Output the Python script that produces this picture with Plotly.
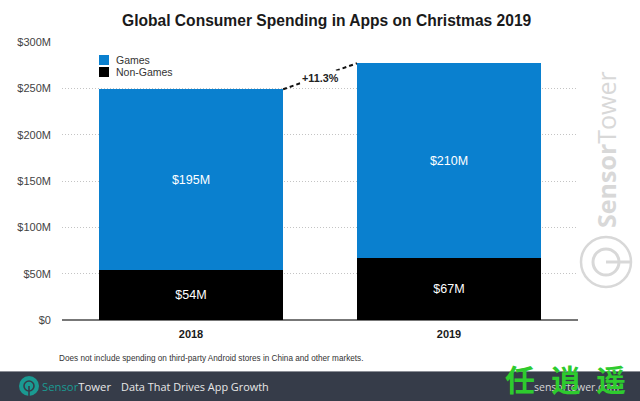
import plotly.graph_objects as go

# data
years = ["2018", "2019"]
games = [195, 210]
non_games = [54, 67]
tick_vals = [0, 50, 100, 150, 200, 250, 300]
tick_text = ["$0", "$50M", "$100M", "$150M", "$200M", "$250M", "$300M"]
title_text = "Global Consumer Spending in Apps on Christmas 2019"
note_text = "Does not include spending on third-party Android stores in China and other markets."
growth_text = "+11.3%"

W, H = 640, 401
LEFT, RIGHT, TOP, BOTTOM = 62, 578, 42, 320
BAR_GAP = 0.286
half_bar = (1 - BAR_GAP) / 2
totals = [g + n for g, n in zip(games, non_games)]
BLUE, TEAL, BAND, WM = "#0a80cf", "#1a9a92", "#363c49", "#d8d8d8"


# paper coords are relative to the plot area, so convert from page pixels
def px_x(x):
    return (x - LEFT) / (RIGHT - LEFT)


def px_y(y):
    return (BOTTOM - y) / (BOTTOM - TOP)


def px_rect(kind, x0, y0, x1, y1, **kw):
    fig.add_shape(type=kind, xref="paper", yref="paper", x0=px_x(x0), x1=px_x(x1), y0=px_y(y1), y1=px_y(y0), **kw)


def px_text(text, x, y, size, color, family="Liberation Sans", xanchor="left", angle=0):
    fig.add_annotation(x=px_x(x), y=px_y(y), xref="paper", yref="paper", text=text, showarrow=False,
                       xanchor=xanchor, yanchor="middle", textangle=angle, borderpad=0, borderwidth=0,
                       font=dict(size=size, color=color, family=family))


fig = go.Figure()
fig.add_bar(x=years, y=non_games, name="Non-Games", marker_color="#000000", marker_line_width=0,
            text=[f"${v}M" for v in non_games], textposition="inside", insidetextanchor="middle",
            textfont=dict(color="#ffffff", size=12.5, family="Liberation Sans"), hoverinfo="skip")
fig.add_bar(x=years, y=games, name="Games", marker_color=BLUE, marker_line_width=0,
            text=[f"${v}M" for v in games], textposition="inside", insidetextanchor="middle",
            textfont=dict(color="#ffffff", size=12.5, family="Liberation Sans"), hoverinfo="skip")

# dashed growth connector between the two bar tops
x0, x1 = half_bar, 1 - half_bar
mid_y = (totals[0] + totals[1]) / 2
fig.add_shape(type="line", xref="x", yref="y", x0=x0, x1=x1, y0=totals[0], y1=totals[1],
              line=dict(color="#111111", width=2, dash="4px,3px"))
fig.add_annotation(x=0.5, y=mid_y, xref="x", yref="y", yshift=-2, text=f"<b>{growth_text}</b>", showarrow=False,
                   bgcolor="#ffffff", borderpad=1,
                   font=dict(size=10.8, color="#222222", family="Liberation Sans"))

# legend drawn by hand, plotly's rows are too tall for the 12px spacing here
px_rect("rect", 99, 55, 109, 65, fillcolor=BLUE, line_width=0)
px_rect("rect", 99, 67, 109, 77, fillcolor="#000000", line_width=0)
px_text("Games", 116, 60, 10.5, "#333333")
px_text("Non-Games", 116, 72, 10.5, "#333333")

# footer band
px_rect("rect", 0, 372, W, H, fillcolor=BAND, line_width=0, layer="below")
px_rect("rect", 0, 371, W, 372, fillcolor="#8b8e96", line_width=0, layer="below")
# footer logo
px_rect("circle", 19, 376, 39, 396, fillcolor=TEAL, line_width=0)
px_rect("circle", 24, 381, 34, 391, fillcolor="rgba(0,0,0,0)", line=dict(color=BAND, width=1.6))
px_rect("line", 29, 386, 29, 396, line=dict(color=BAND, width=1.6))

# side watermark logo
px_rect("circle", 581, 237, 631, 287, fillcolor="rgba(0,0,0,0)", line=dict(color=WM, width=2.5))
px_rect("circle", 593, 249, 619, 275, fillcolor="rgba(0,0,0,0)", line=dict(color=WM, width=3))
px_rect("line", 606, 262, 631, 262, line=dict(color=WM, width=3))

px_text(f"<b>{title_text}</b>", 326.5, 20, 15.6, "#1a1a1a", xanchor="center")
px_text(note_text, 59, 358, 8.2, "#333333")
px_text(f'<span style="color:{TEAL}">Sensor</span>Tower', 42, 386, 11.3, "#e8e8e8", family="Open Sans")
px_text("Data That Drives App Growth", 121, 386, 10.9, "#e8e8e8", family="Open Sans")
px_text("sensortower.com", 534, 387, 10.5, "#d5d5d5", family="Open Sans")
px_text("<b>Sensor</b>Tower", 606, 150, 25, WM, xanchor="center", angle=-90, family="Open Sans")
px_text("<b>任</b>", 520, 378, 30, "#2ecb2e", family="Noto Sans CJK SC", xanchor="center")
px_text("<b>逍</b>", 566, 378, 30, "#2ecb2e", family="Noto Sans CJK SC", xanchor="center")
px_text("<b>遥</b>", 611, 378, 30, "#2ecb2e", family="Noto Sans CJK SC", xanchor="center")

fig.update_layout(
    width=W, height=H, barmode="stack", bargap=BAR_GAP, paper_bgcolor="#ffffff", plot_bgcolor="#ffffff",
    margin=dict(l=LEFT, r=W - RIGHT, t=TOP, b=H - BOTTOM), autosize=False, showlegend=False,
    font=dict(family="Liberation Sans", color="#333333"),
)
fig.update_xaxes(type="category", range=[-0.5, 1.5], showgrid=False, ticks="", showline=False,
                 tickfont=dict(size=11, color="#1a1a1a"), ticklabelstandoff=6,
                 tickmode="array", tickvals=years, ticktext=[f"<b>{y}</b>" for y in years], zeroline=False)
fig.update_yaxes(range=[0, 300], tickmode="array", tickvals=tick_vals, ticktext=tick_text,
                 tickfont=dict(size=11, color="#444444"), ticklabelstandoff=10,
                 gridcolor="#c4c4c4", griddash="1px,2px", gridwidth=1,
                 zeroline=True, zerolinecolor="#777777", zerolinewidth=1.5, showline=False)

# page body margin would shift the chart by 8px
fig.write_html("out.html", config={"displayModeBar": False}, post_script="document.body.style.margin='0';")
